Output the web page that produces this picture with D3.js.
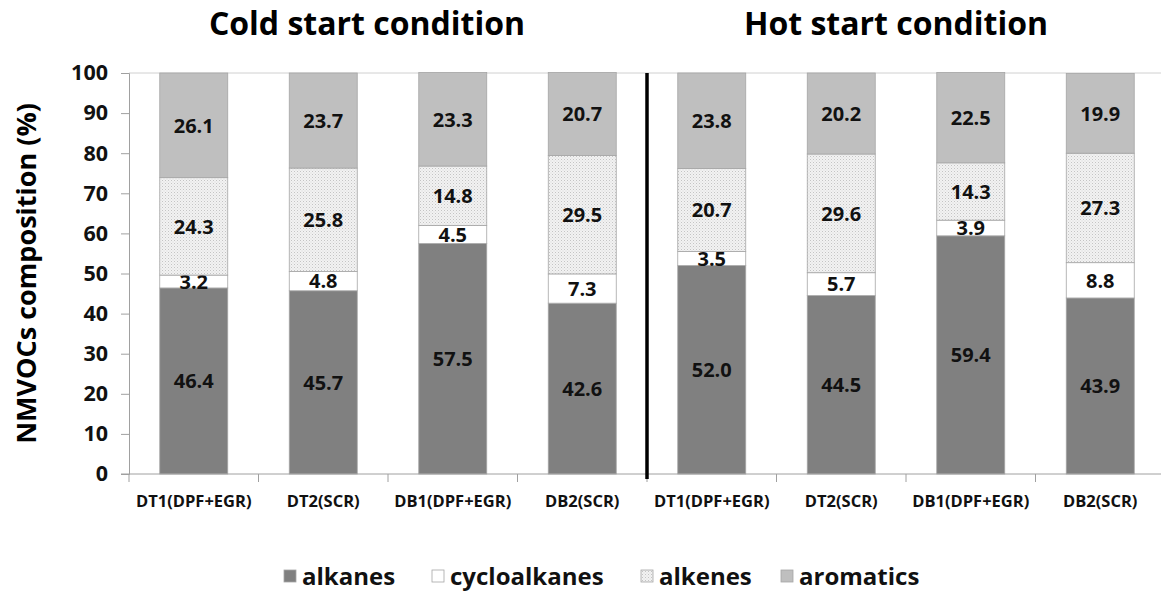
<!DOCTYPE html>
<html><head><meta charset="utf-8">
<script src="https://cdn.jsdelivr.net/npm/d3@7"></script>
<style>
body{margin:0;background:#fff;}
svg text{font-family:"Open Sans","Noto Sans",sans-serif;font-weight:bold;}
</style></head>
<body><svg id="c" width="1161" height="594"></svg>
<script>
const categories = ["DT1(DPF+EGR)","DT2(SCR)","DB1(DPF+EGR)","DB2(SCR)","DT1(DPF+EGR)","DT2(SCR)","DB1(DPF+EGR)","DB2(SCR)"];
const groups = ["Cold start condition","Hot start condition"];
const seriesNames = ["alkanes","cycloalkanes","alkenes","aromatics"];
const alkanes      = [46.4,45.7,57.5,42.6,52.0,44.5,59.4,43.9];
const cycloalkanes = [3.2,4.8,4.5,7.3,3.5,5.7,3.9,8.8];
const alkenes      = [24.3,25.8,14.8,29.5,20.7,29.6,14.3,27.3];
const aromatics    = [26.1,23.7,23.3,20.7,23.8,20.2,22.5,19.9];
const yTicks = [0,10,20,30,40,50,60,70,80,90,100];

const svg = d3.select("#c");
const defs = svg.append("defs");
const pat = defs.append("pattern").attr("id","dots").attr("width",3).attr("height",3).attr("patternUnits","userSpaceOnUse");
pat.append("rect").attr("width",3).attr("height",3).attr("fill","#f2f2f2");
pat.append("rect").attr("width",1).attr("height",1).attr("fill","#c4c4c4");
pat.append("rect").attr("x",1.5).attr("y",1.5).attr("width",1).attr("height",1).attr("fill","#d6d6d6");

const fills = ["#808080","#ffffff","url(#dots)","#bfbfbf"];

const x = d3.scaleBand().domain(d3.range(categories.length)).range([129,1165]).paddingInner(0.475).paddingOuter(0.2375);
const y = d3.scaleLinear().domain([0,100]).range([474,73]);

// top gridline
svg.append("line").attr("x1",x.range()[0]).attr("x2",1161).attr("y1",y(100)).attr("y2",y(100)).attr("stroke","#d0d0d0").attr("stroke-width",1);

const rows = categories.map((c,i)=>({i, alkanes:alkanes[i], cycloalkanes:cycloalkanes[i], alkenes:alkenes[i], aromatics:aromatics[i]}));
const stack = d3.stack().keys(seriesNames)(rows);

stack.forEach((s,k)=>{
  const g = svg.append("g");
  g.selectAll("rect").data(s).join("rect")
    .attr("x",d=>x(d.data.i)).attr("width",x.bandwidth())
    .attr("y",d=>y(d[1])).attr("height",d=>y(d[0])-y(d[1]))
    .attr("fill",fills[k]).attr("stroke","#a6a6a6").attr("stroke-width",0.8);
  g.selectAll("text").data(s).join("text")
    .attr("x",d=>x(d.data.i)+x.bandwidth()/2).attr("y",d=>(y(d[0])+y(d[1]))/2)
    .attr("dy","0.36em").attr("text-anchor","middle").attr("font-size",20).attr("fill","#111")
    .text(d=>d.data[seriesNames[k]].toFixed(1));
});

// y axis
const ya = svg.append("g").attr("transform",`translate(${x.range()[0]},0)`)
  .call(d3.axisLeft(y).tickValues(yTicks).tickSize(8).tickPadding(13));
ya.select(".domain").attr("stroke","#a0a0a0");
ya.selectAll(".tick line").attr("stroke","#a0a0a0");
ya.selectAll("text").attr("font-size",21.5).attr("fill","#111").attr("font-family","Open Sans").attr("font-weight","bold");

// x axis
const xa = svg.append("g").attr("transform",`translate(0,${y(0)})`);
xa.append("line").attr("x1",x.range()[0]-8).attr("x2",1161).attr("stroke","#a0a0a0");
xa.selectAll("line.t").data(d3.range(categories.length)).join("line").attr("class","t")
  .attr("x1",i=>x(i)-x.step()*x.paddingInner()/2).attr("x2",i=>x(i)-x.step()*x.paddingInner()/2)
  .attr("y1",0).attr("y2",8).attr("stroke","#a0a0a0");
xa.selectAll("text").data(categories).join("text")
  .attr("x",(d,i)=>x(i)+x.bandwidth()/2).attr("y",33)
  .attr("text-anchor","middle").attr("font-size",16.5).attr("fill","#111").text(d=>d);

// divider
const midX = (x(3)+x.bandwidth()+x(4))/2;
svg.append("line").attr("x1",midX).attr("x2",midX).attr("y1",y(100)).attr("y2",y(0)+5).attr("stroke","#000").attr("stroke-width",3.5);

// group titles
const titleX = [367,896];
groups.forEach((t,gi)=>{
  svg.append("text").attr("x",titleX[gi]).attr("y",35).attr("text-anchor","middle").attr("font-size",32).attr("fill","#000").text(t);
});

// y title
svg.append("text").attr("transform",`translate(36,${(y(0)+y(100))/2}) rotate(-90)`).attr("text-anchor","middle")
  .attr("font-size",27).attr("fill","#000").text("NMVOCs composition (%)");

// legend
const legX = [284,432,641,781];
const lg = svg.append("g").attr("transform","translate(0,577)");
seriesNames.forEach((n,k)=>{
  lg.append("rect").attr("x",legX[k]).attr("y",-7).attr("width",12).attr("height",12).attr("fill",fills[k]).attr("stroke","#a6a6a6").attr("stroke-width",0.8);
  lg.append("text").attr("x",legX[k]+18).attr("y",0).attr("dy","0.35em").attr("font-size",24).attr("fill","#111").text(n);
});
</script></body></html>
